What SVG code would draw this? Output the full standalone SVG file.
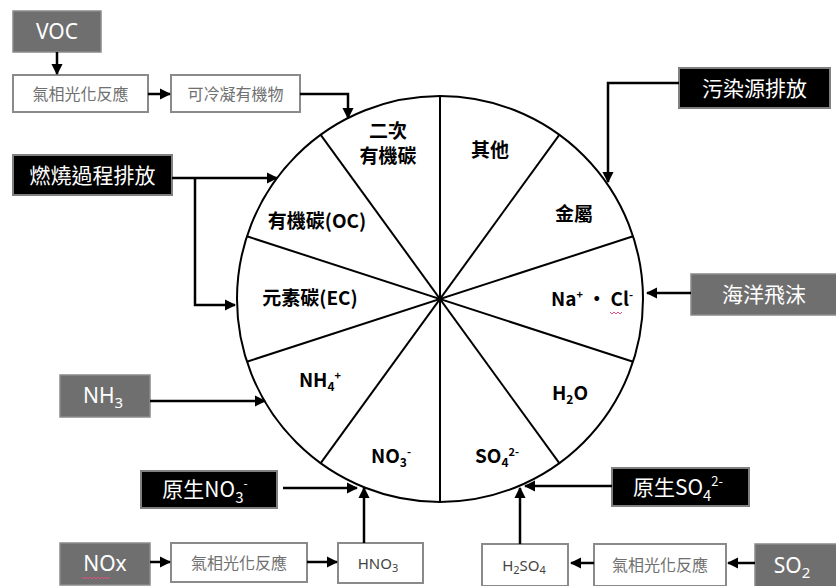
<svg xmlns="http://www.w3.org/2000/svg" width="836" height="586" viewBox="0 0 836 586">
<defs>
<style>
.gbox{fill:#6f6f6f;stroke:#8a8a8a;stroke-width:1.5}
.bbox{fill:#000;stroke:#808080;stroke-width:2}
.wbox{fill:#fff;stroke:#8a8a8a;stroke-width:2}
.wt{font-family:"Noto Sans CJK TC","Liberation Sans",sans-serif;fill:#fff;font-size:21px;text-anchor:middle}
.lt{font-family:"Noto Sans","Noto Sans CJK TC",sans-serif;fill:#fff;font-size:21px;text-anchor:middle}
.gt{font-family:"Noto Sans CJK TC","Liberation Sans",sans-serif;fill:#707070;font-size:16px;text-anchor:middle}
.ct{font-family:"Noto Sans CJK TC","Liberation Sans",sans-serif;fill:#000;font-size:19px;font-weight:bold;text-anchor:middle}
.con{fill:none;stroke:#000;stroke-width:2.5}
.sq{fill:none;stroke:#e0507a;stroke-width:1}
</style>
<marker id="ah" viewBox="0 0 10 10" refX="9" refY="5" markerWidth="4.5" markerHeight="4.5" orient="auto" markerUnits="strokeWidth">
<path d="M0,0 L10,5 L0,10 z" fill="#000"/>
</marker>
</defs>
<rect width="836" height="586" fill="#fff"/>

<g id="pie">
<circle cx="440" cy="299" r="203" fill="#fff" stroke="#000" stroke-width="2"/>
<g stroke="#000" stroke-width="2">
<line x1="440" y1="96" x2="440" y2="502"/>
<line x1="559.3" y1="134.8" x2="320.7" y2="463.2"/>
<line x1="633.1" y1="236.3" x2="246.9" y2="361.7"/>
<line x1="633.1" y1="361.7" x2="246.9" y2="236.3"/>
<line x1="559.3" y1="463.2" x2="320.7" y2="134.8"/>
</g>
<text class="ct" x="388" y="138">二次</text>
<text class="ct" x="388" y="163">有機碳</text>
<text class="ct" x="490" y="157">其他</text>
<text class="ct" x="574" y="221">金屬</text>
<text class="ct" x="317" y="228">有機碳(OC)</text>
<text class="ct" x="310" y="305">元素碳(EC)</text>
<text class="ct" x="592" y="306">Na<tspan font-size="11" dy="-7">+</tspan><tspan dy="7"> • Cl</tspan><tspan font-size="11" dy="-7">-</tspan></text>
<path class="sq" d="M610,312 l2,2 l2,-2 l2,2 l2,-2 l2,2 l2,-2"/>
<text class="ct" x="320" y="387">NH<tspan font-size="12" dy="4">4</tspan><tspan font-size="11" dy="-11">+</tspan></text>
<text class="ct" x="570" y="400">H<tspan font-size="12" dy="4">2</tspan><tspan dy="-4">O</tspan></text>
<text class="ct" x="391" y="463">NO<tspan font-size="12" dy="4">3</tspan><tspan font-size="11" dy="-11">-</tspan></text>
<text class="ct" x="497" y="463">SO<tspan font-size="12" dy="4">4</tspan><tspan font-size="11" dy="-11">2-</tspan></text>
</g>

<g id="voc"><rect class="gbox" x="13" y="11" width="88" height="41"/><text class="lt" x="57" y="39" font-size="22">VOC</text></g>
<g id="photo1"><rect class="wbox" x="13" y="75" width="135" height="37"/><text class="gt" x="80.5" y="100">氣相光化反應</text></g>
<g id="condensable"><rect class="wbox" x="171" y="75" width="129" height="37"/><text class="gt" x="235.5" y="100">可冷凝有機物</text></g>
<g id="pollution"><rect class="bbox" x="679" y="68" width="151" height="40"/><text class="wt" x="754.5" y="96">污染源排放</text></g>
<g id="combustion"><rect class="bbox" x="13" y="155" width="159" height="40"/><text class="wt" x="92.5" y="183">燃燒過程排放</text></g>
<g id="seaspray"><rect class="gbox" x="691" y="274" width="146" height="41"/><text class="wt" x="764" y="302">海洋飛沫</text></g>
<g id="nh3"><rect class="gbox" x="60" y="375" width="90" height="42"/><text class="lt" x="103" y="403">NH<tspan font-size="15" dy="5">3</tspan></text></g>
<g id="primaryno3"><rect class="bbox" x="141" y="471" width="136" height="37"/><text class="wt" x="205" y="497">原生NO<tspan font-size="15" dy="6">3</tspan><tspan font-size="12" dy="-15">-</tspan></text></g>
<g id="nox"><rect class="gbox" x="60" y="543" width="90" height="42"/><text class="lt" x="105" y="571">NOx</text><path class="sq" d="M82,577 l2,2 l2,-2 l2,2 l2,-2 l2,2 l2,-2 l2,2 l2,-2 l2,2 l2,-2 l2,2 l2,-2 l2,2 l2,-2"/></g>
<g id="photo2"><rect class="wbox" x="171" y="543" width="136" height="39"/><text class="gt" x="239" y="569">氣相光化反應</text></g>
<g id="hno3"><rect class="wbox" x="338" y="543" width="85" height="40"/><text class="gt" x="378" y="569" style="fill:#444;font-family:'Noto Sans',sans-serif;font-size:15px">HNO<tspan font-size="11" dy="3">3</tspan></text></g>
<g id="primaryso4"><rect class="bbox" x="612" y="468" width="137" height="38"/><text class="wt" x="678" y="495">原生SO<tspan font-size="15" dy="6">4</tspan><tspan font-size="13" dy="-15">2-</tspan></text></g>
<g id="h2so4"><rect class="wbox" x="482" y="544" width="86" height="42"/><text class="gt" x="524" y="571" style="fill:#444;font-family:'Noto Sans',sans-serif;font-size:15px">H<tspan font-size="11" dy="3">2</tspan><tspan dy="-3">SO</tspan><tspan font-size="11" dy="3">4</tspan></text></g>
<g id="photo3"><rect class="wbox" x="594" y="544" width="132" height="42"/><text class="gt" x="660" y="571">氣相光化反應</text></g>
<g id="so2"><rect class="gbox" x="755" y="544" width="82" height="43"/><text class="lt" x="792" y="573">SO<tspan font-size="15" dy="5">2</tspan></text></g>

<g id="connectors">
<line class="con" x1="57" y1="52" x2="57" y2="74" marker-end="url(#ah)"/>
<line class="con" x1="148" y1="94" x2="170" y2="94" marker-end="url(#ah)"/>
<polyline class="con" points="300,94 348,94 348,118" marker-end="url(#ah)"/>
<polyline class="con" points="679,83 608,83 608,182" marker-end="url(#ah)"/>
<line class="con" x1="172" y1="178" x2="277" y2="178" marker-end="url(#ah)"/>
<polyline class="con" points="195,178 195,305 235,305" marker-end="url(#ah)"/>
<line class="con" x1="691" y1="293" x2="647" y2="293" marker-end="url(#ah)"/>
<line class="con" x1="150" y1="401" x2="265" y2="401" marker-end="url(#ah)"/>
<line class="con" x1="283" y1="488" x2="357" y2="488" marker-end="url(#ah)"/>
<line class="con" x1="364" y1="543" x2="364" y2="488" marker-end="url(#ah)"/>
<line class="con" x1="150" y1="562" x2="170" y2="562" marker-end="url(#ah)"/>
<line class="con" x1="307" y1="562" x2="337" y2="562" marker-end="url(#ah)"/>
<line class="con" x1="612" y1="486" x2="525" y2="486" marker-end="url(#ah)"/>
<line class="con" x1="520" y1="544" x2="520" y2="488" marker-end="url(#ah)"/>
<line class="con" x1="594" y1="563" x2="571" y2="563" marker-end="url(#ah)"/>
<line class="con" x1="755" y1="563" x2="728" y2="563" marker-end="url(#ah)"/>
</g>
</svg>
